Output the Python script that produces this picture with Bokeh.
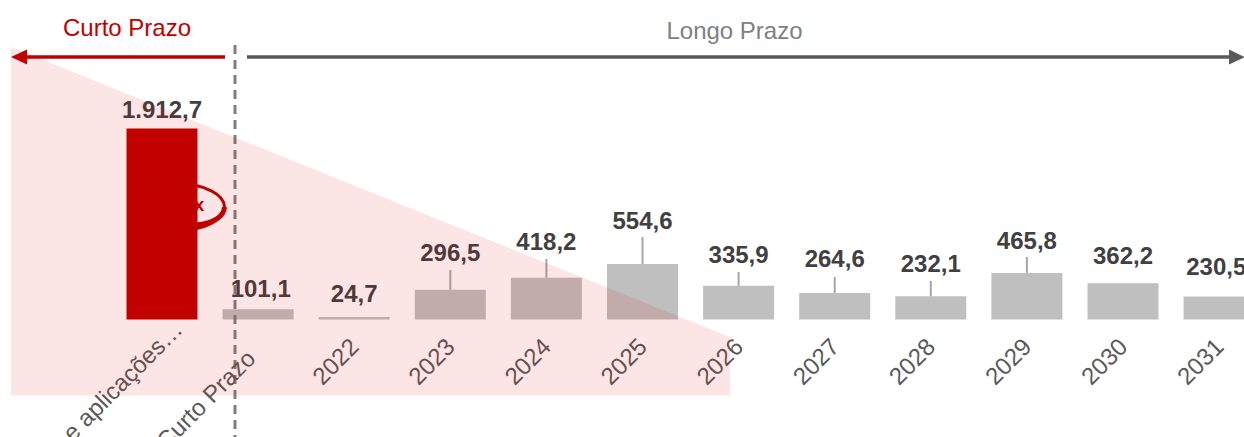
from math import pi
from bokeh.plotting import figure
from bokeh.models import Range1d, FixedTicker
from bokeh.core.properties import value
from bokeh.embed import file_html
from bokeh.resources import INLINE

categories = ["Caixa e aplicações…", "Curto Prazo", "2022", "2023", "2024", "2025",
              "2026", "2027", "2028", "2029", "2030", "2031"]
values = [1912.7, 101.1, 24.7, 296.5, 418.2, 554.6, 335.9, 264.6, 232.1, 465.8, 362.2, 230.5]
labels = ["1.912,7", "101,1", "24,7", "296,5", "418,2", "554,6", "335,9", "264,6", "232,1", "465,8", "362,2", "230,5"]
bar_colors = ["#C00000"] + ["#BFBFBF"] * 11
# height at which each value label sits, in value units
label_levels = [2105, 312, 255, 665, 785, 995, 645, 605, 555, 795, 635, 525]
# end of the leader line of each bar, in value units; 0 means no leader
leader_tops = [0, 0, 0, 495, 605, 825, 475, 425, 385, 625, 0, 0]

FONT = "Liberation Sans"
W, H = 1244, 437
STEP = 96.1
X0 = 162
Y0 = 319.3
K = 0.09985
# sideways nudges of the value labels, in category steps
label_nudge = [0, 0.027, 0, 0, 0, 0, 0, 0, 0, 0, 0, -0.03]

def dx(px):
    return (px - X0) / STEP

def dy(py):
    return (Y0 - py) / K

p = figure(width=W, height=H, output_backend="svg", toolbar_location=None,
           x_range=Range1d(dx(0.5), dx(W + 0.5)), y_range=Range1d(dy(H + 0.4), dy(0.4)),
           x_axis_location="below", y_axis_location=None, min_border=0,
           outline_line_color=None, background_fill_color="white", border_fill_color="white")
p.grid.visible = False

xs = list(range(len(categories)))

# ring behind the red bar
p.ellipse(x=[dx(179.5)], y=[dy(207)], width=[90], height=[46], width_units="screen", height_units="screen",
          fill_color=None, line_color="#C00000", line_width=3)
p.bezier(x0=[dx(196)], y0=[dy(225)], x1=[dx(224.5)], y1=[dy(207)],
         cx0=[dx(214)], cy0=[dy(223)], cx1=[dx(224)], cy1=[dy(216)],
         line_color="#C00000", line_width=5)
p.text(x=[dx(199)], y=[dy(204)], text=["x"], text_color="#C00000", text_align="center", text_baseline="middle",
       text_font=value(FONT), text_font_style="bold", text_font_size="19px")

# bars and leaders
p.vbar(x=xs, top=values, bottom=0, width=71 / STEP, fill_color=bar_colors, line_color=None)
lx = [x for x, t in zip(xs, leader_tops) if t]
ly0 = [v for v, t in zip(values, leader_tops) if t]
ly1 = [t for t in leader_tops if t]
p.segment(x0=lx, y0=ly0, x1=lx, y1=ly1, line_color="#A6A6A6", line_width=2)

# ring seam on top of the bar
p.ellipse(x=[dx(179.5)], y=[dy(207)], width=[90], height=[46], width_units="screen", height_units="screen",
          fill_color=None, line_color="#7F2020", line_alpha=0.35, line_width=1, line_dash="14 18")

p.text(x=[x + n for x, n in zip(xs, label_nudge)], y=label_levels, text=labels, text_color="#404040",
       text_align="center", text_baseline="middle",
       text_font=value(FONT), text_font_style="bold", text_font_size="24px")

# period dividers
p.line(x=[dx(235), dx(235)], y=[dy(45), dy(437)], line_color="#7F7F7F", line_width=3, line_dash="9 6")

# period arrows
p.line(x=[dx(225), dx(24)], y=[dy(57), dy(57)], line_color="#C00000", line_width=3.5)
p.patch(x=[dx(11), dx(27), dx(27)], y=[dy(57), dy(49.5), dy(64.5)], fill_color="#C00000", line_color=None)
p.line(x=[dx(247), dx(1232)], y=[dy(57), dy(57)], line_color="#595959", line_width=3.5)
p.patch(x=[dx(1245), dx(1229), dx(1229)], y=[dy(57), dy(49.5), dy(64.5)], fill_color="#595959", line_color=None)
p.text(x=[dx(127)], y=[dy(27)], text=["Curto Prazo"], text_color="#C00000", text_align="center", text_baseline="middle",
       text_font=value(FONT), text_font_size="24px")
p.text(x=[dx(734.5)], y=[dy(30)], text=["Longo Prazo"], text_color="#808080", text_align="center", text_baseline="middle",
       text_font=value(FONT), text_font_size="24px")

# category axis, sitting on the value baseline; the two longest labels sit apart
axis = p.xaxis[0]
axis.fixed_location = 0
axis.ticker = FixedTicker(ticks=xs[2:])
axis.major_label_overrides = {i: c for i, c in enumerate(categories)}
axis.major_label_orientation = pi / 4
axis.major_label_standoff = 17
axis.major_label_text_font = FONT
axis.major_label_text_font_size = "24px"
axis.major_label_text_color = "#595959"
axis.axis_line_color = None
axis.major_tick_line_color = None
axis.minor_tick_line_color = None
p.text(x=[dx(178), dx(251)], y=[dy(325), dy(354)], text=categories[:2], angle=pi / 4,
       text_color="#595959", text_align="right", text_baseline="middle",
       text_font=value(FONT), text_font_size="24px")

# translucent wedge above everything
p.patch(x=[dx(11), dx(11), dx(730), dx(730)], y=[dy(47), dy(395.5), dy(395.5), dy(337)],
        fill_color="#E00000", fill_alpha=0.1, line_color=None, level="overlay")

open("out.html", "w").write(file_html(p, INLINE))
